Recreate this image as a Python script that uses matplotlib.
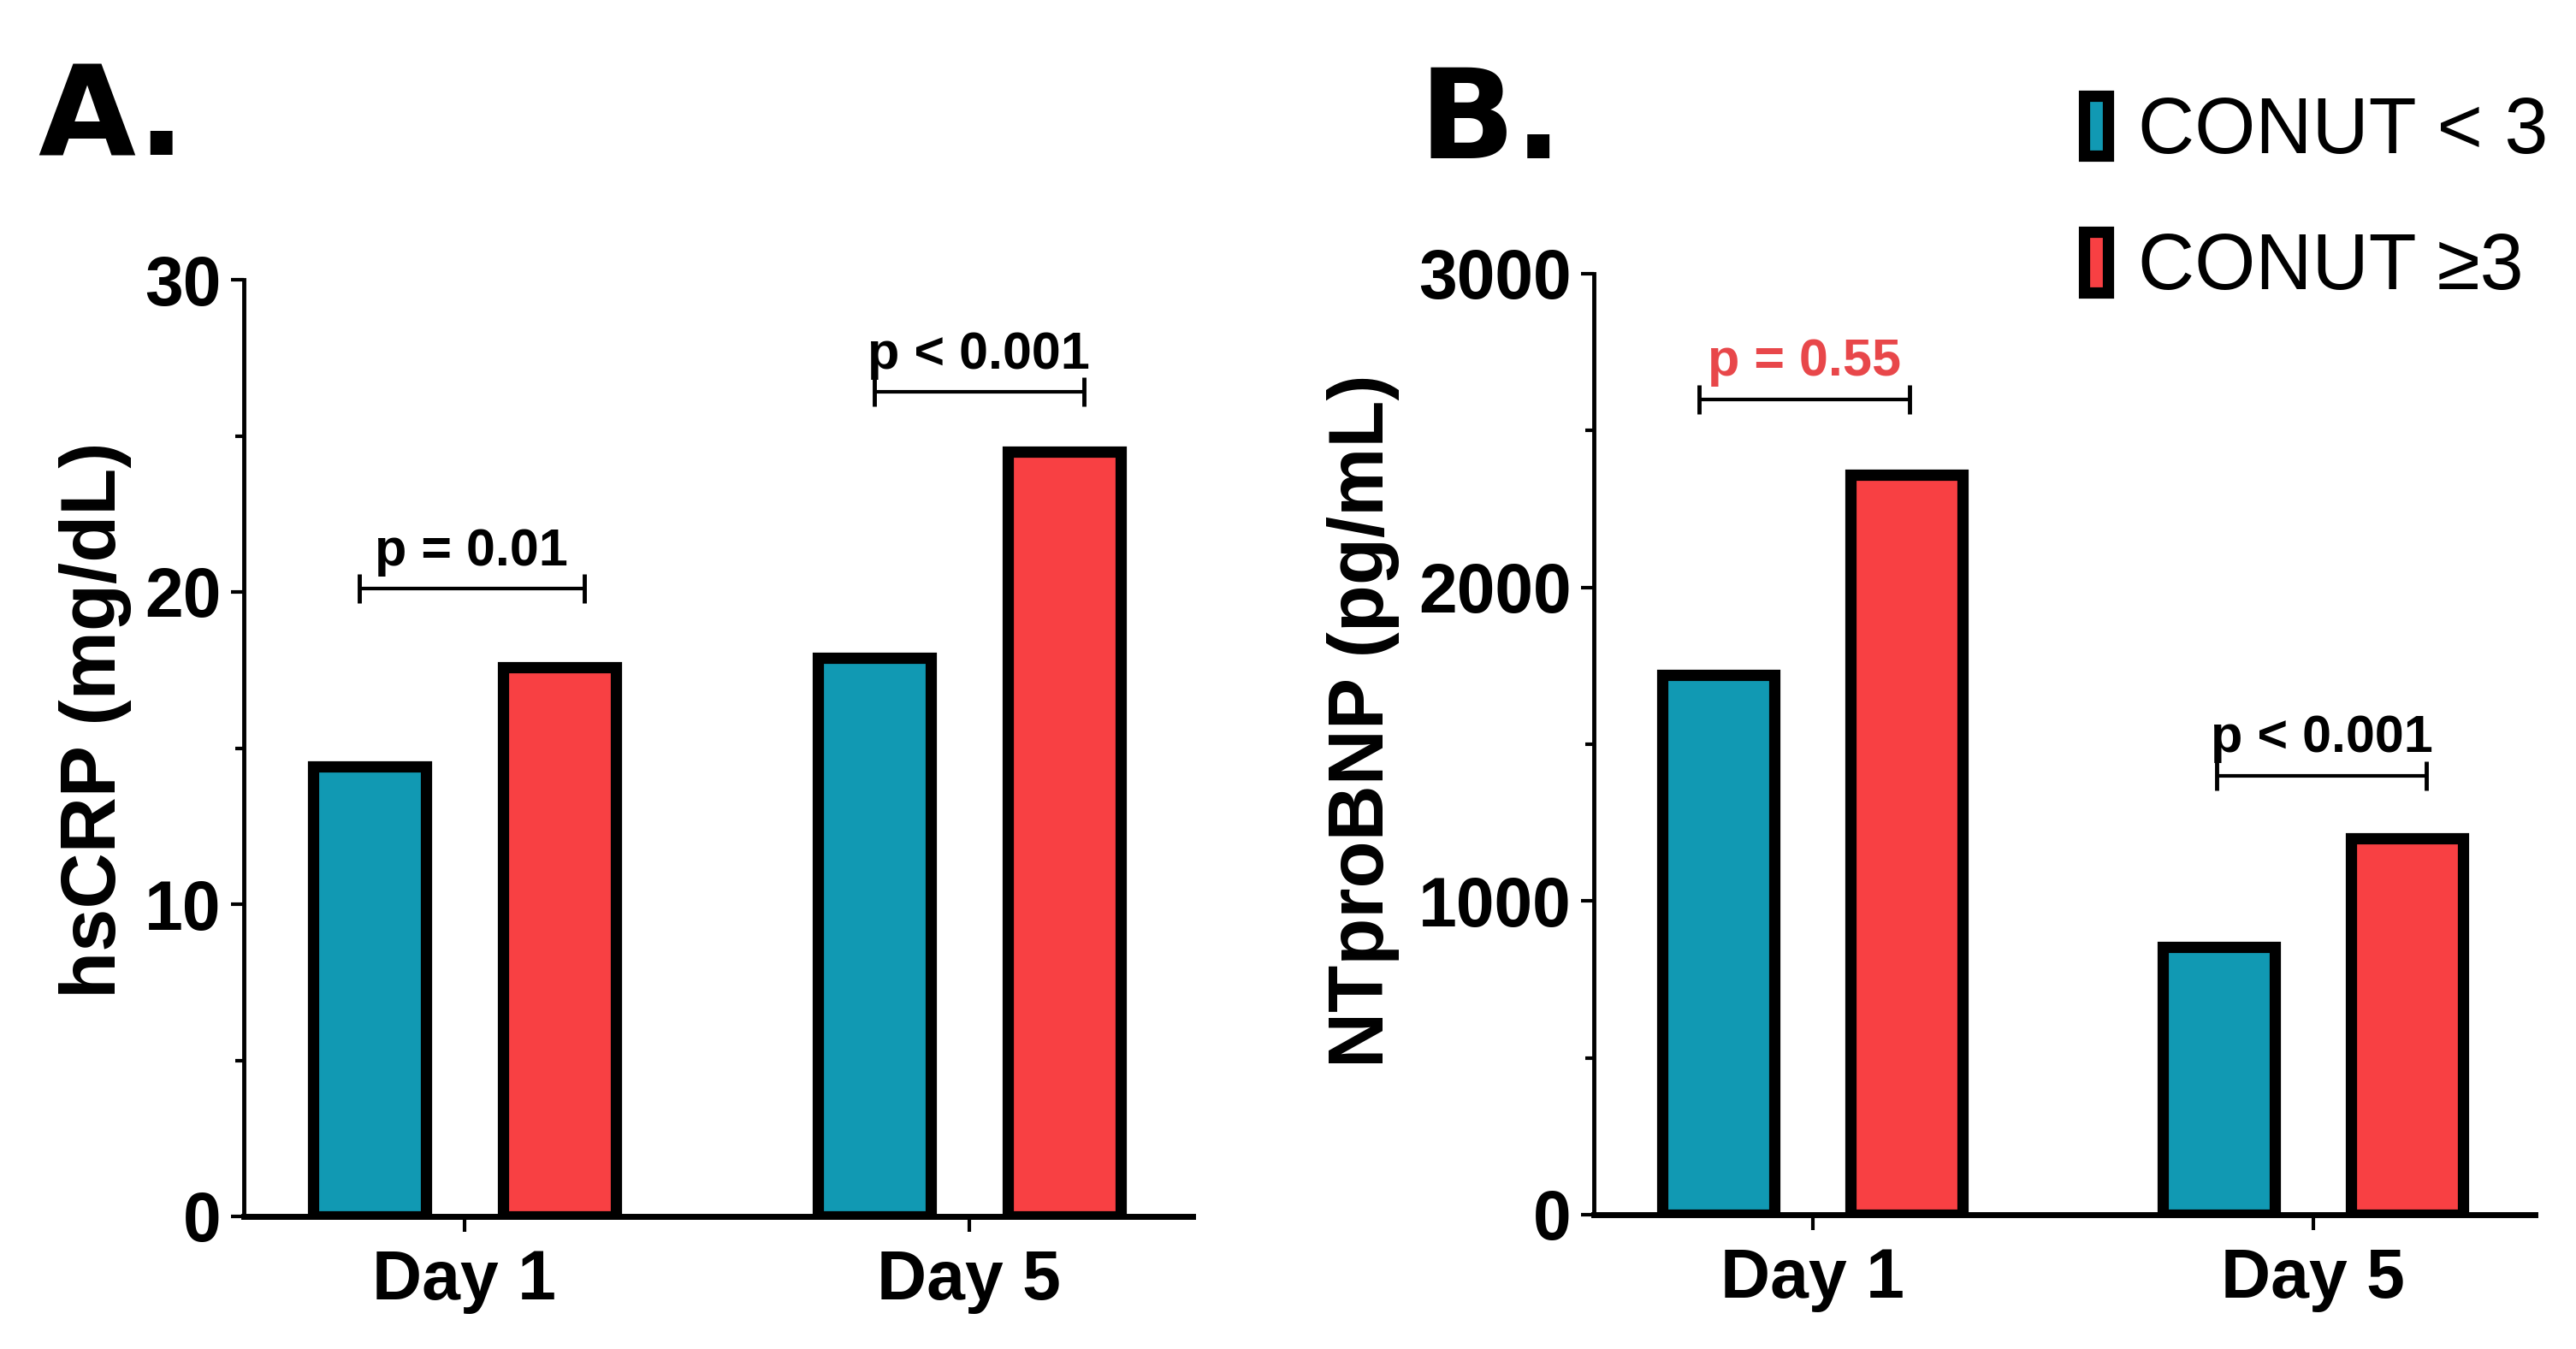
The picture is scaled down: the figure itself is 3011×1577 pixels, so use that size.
import matplotlib.pyplot as plt
import numpy as np

# data
days = ["Day 1", "Day 5"]
series_labels = ["CONUT < 3", "CONUT \u22653"]
hscrp_low = [14.4, 17.9]
hscrp_high = [17.6, 24.5]
ntprobnp_low = [1720, 855]
ntprobnp_high = [2360, 1200]
hscrp_p = ["p = 0.01", "p < 0.001"]
hscrp_p_y = [20.1, 26.4]
ntprobnp_p = ["p = 0.55", "p < 0.001"]
ntprobnp_p_y = [2600, 1400]

TEAL = "#1199B3"
RED = "#F84043"
P_RED = "#E8474A"
FONT = "Liberation Sans"

plt.rcParams["font.family"] = [FONT, "DejaVu Sans"]
plt.rcParams["font.weight"] = "bold"

W, H = 3011, 1577
fig = plt.figure(figsize=(W / 100, H / 100), dpi=100)

BAR_OFF = 0.188
BAR_W = 0.224
EDGE = 9.5


def draw_panel(rect, low, high, ymax, step, ylabel, label_xy, pvals, p_y, p_colors, brackets):
    ax = fig.add_axes(rect)
    x = np.arange(len(days))
    b1 = ax.bar(x - BAR_OFF, low, BAR_W, color=TEAL, edgecolor="black", linewidth=EDGE)
    b2 = ax.bar(x + BAR_OFF, high, BAR_W, color=RED, edgecolor="black", linewidth=EDGE)
    ax.set_xlim(-0.437, 1.443)
    ax.set_ylim(0, ymax)
    ax.set_xticks(x)
    ax.set_xticklabels(days)
    ax.set_yticks(np.arange(0, ymax + step / 2, step))
    ax.set_yticks(np.arange(step / 2, ymax, step), minor=True)
    for s in ("top", "right"):
        ax.spines[s].set_visible(False)
    ax.spines["left"].set_linewidth(3.5)
    ax.spines["bottom"].set_linewidth(5)
    ax.tick_params(axis="y", which="major", length=11, width=3, labelsize=58, pad=8)
    ax.tick_params(axis="y", which="minor", length=7, width=3)
    ax.tick_params(axis="x", length=13, width=3, labelsize=58, pad=14)
    ax.set_ylabel(ylabel, fontsize=65, fontweight="bold")
    ax.yaxis.set_label_coords(*label_xy)

    cap = ymax * 17 / 1095
    for i, (txt, yv, col, (l, r)) in enumerate(zip(pvals, p_y, p_colors, brackets)):
        x1, x2 = x[i] + l, x[i] + r
        ax.plot([x1, x2], [yv, yv], color="black", lw=3, solid_capstyle="butt")
        ax.vlines([x1, x2], yv - cap, yv + cap, color="black", lw=3.5)
        ax.annotate(txt, xy=((x1 + x2) / 2, yv), xytext=(0, 20), textcoords="offset points",
                    ha="center", va="baseline", fontsize=44, fontweight="bold", color=col)
    return b1, b2


draw_panel([285 / W, 155 / H, 1109 / W, 1095 / H], hscrp_low, hscrp_high, 30, 10,
           "hsCRP (mg/dL)", (-0.118, 0.53), hscrp_p, hscrp_p_y, ["black", "black"],
           [(-0.208, 0.237), (-0.188, 0.227)])

b1, b2 = draw_panel([1863 / W, 157 / H, 1100 / W, 1100 / H], ntprobnp_low, ntprobnp_high, 3000, 1000,
                    "NTproBNP (pg/mL)", (-0.206, 0.525), ntprobnp_p, ntprobnp_p_y, [P_RED, "black"],
                    [(-0.227, 0.193), (-0.193, 0.226)])

fig.text(44 / W, 1 - 181 / H, "A.", fontsize=106, fontweight="bold", family="DejaVu Sans", va="baseline")
fig.text(1658 / W, 1 - 185 / H, "B.", fontsize=106, fontweight="bold", family="DejaVu Sans", va="baseline")

fig.legend([b1, b2], series_labels, loc="upper left", bbox_to_anchor=(2436 / W, 1 - 112 / H),
           frameon=False, prop={"family": FONT, "size": 66, "weight": "normal"},
           handlelength=0.31, handleheight=0.8, handletextpad=0.38, labelspacing=0.8,
           borderpad=0, borderaxespad=0)

fig.savefig("out.png", dpi=100)
